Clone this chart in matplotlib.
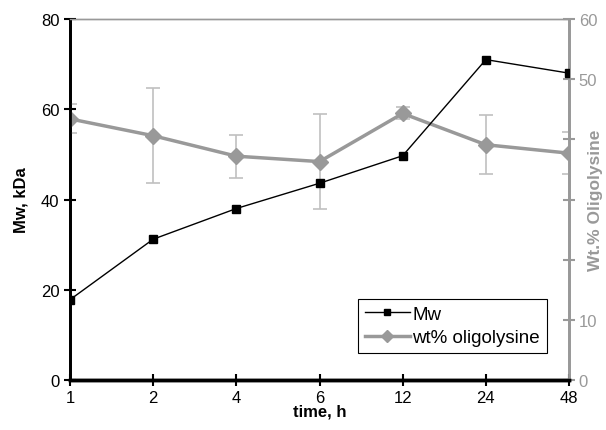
import numpy as np
import matplotlib
matplotlib.use('Agg')
import matplotlib.pyplot as plt
from matplotlib.lines import Line2D

plt.rcParams['font.family'] = ['Liberation Sans', 'DejaVu Sans']

# data
times = ['1', '2', '4', '6', '12', '24', '48']
mw = [17.8, 31.2, 38.0, 43.6, 49.7, 71.0, 68.0]
wt_oligo = [43.4, 40.6, 37.2, 36.3, 44.3, 39.1, 37.7]
wt_err = [2.4, 7.9, 3.6, 7.9, 1.0, 4.9, 3.5]

grey = '#999999'
light = '#c0c0c0'

fig = plt.figure(figsize=(6.06, 4.31), dpi=100)
ax = fig.add_axes([0.1155, 0.116, 0.8235, 0.8376])
ax2 = ax.twinx()

x = np.arange(len(times))

ax2.errorbar(x, wt_oligo, yerr=wt_err, color=grey, ecolor=light, elinewidth=1.2,
             capsize=5, capthick=1.2, lw=2.5, marker='D', ms=8.5, mec=grey, zorder=3)
ax2.set_ylim(0, 60)
ax2.set_yticks(range(0, 61, 10))
# labels 20-40 are hidden behind the axis title in the original
ax2.set_yticklabels(['0', '10', '', '', '', '50', '60'])
ax2.tick_params(axis='y', colors=grey, labelsize=12, direction='inout', length=8, width=1.5, pad=3)
ax2.set_ylabel('Wt.% Oligolysine', color=grey, fontweight='bold', fontsize=12.5)
ax2.yaxis.set_label_coords(1.039, 0.5)

ax.plot(x, mw, color='black', lw=1, marker='s', ms=6, zorder=4)
ax.set_zorder(ax2.get_zorder() + 1)
ax.patch.set_visible(False)
ax.set_ylim(0, 80)
ax.set_yticks(range(0, 81, 20))
ax.set_xlim(0, len(times) - 1)
ax.set_xticks(x)
ax.set_xticklabels(times)
ax.tick_params(axis='both', labelsize=12, direction='inout', length=8, width=1.5)
ax.tick_params(axis='x', pad=3)
ax.set_ylabel('Mw, kDa', fontweight='bold', fontsize=12, labelpad=9)
ax.set_xlabel('time, h', fontweight='bold', fontsize=12, labelpad=-1)

for a in (ax, ax2):
    a.spines['top'].set_color(grey)
    a.spines['top'].set_linewidth(1)
    a.spines['right'].set_color(grey)
    a.spines['right'].set_linewidth(2)
    a.spines['left'].set_linewidth(2)
    a.spines['bottom'].set_linewidth(2.5)

handles = [Line2D([], [], color='black', lw=1, marker='s', ms=5),
           Line2D([], [], color=grey, lw=2.5, marker='D', ms=6.5)]
leg = ax.legend(handles, ['Mw', 'wt% oligolysine'], loc='lower right',
                bbox_to_anchor=(0.955, 0.075), fontsize=13.5, fancybox=False,
                framealpha=1, edgecolor='black', handlelength=2.4, borderpad=0.35,
                labelspacing=0.35, handletextpad=0.15, borderaxespad=0)
leg.get_frame().set_linewidth(0.8)

fig.savefig('out.png', dpi=100)
